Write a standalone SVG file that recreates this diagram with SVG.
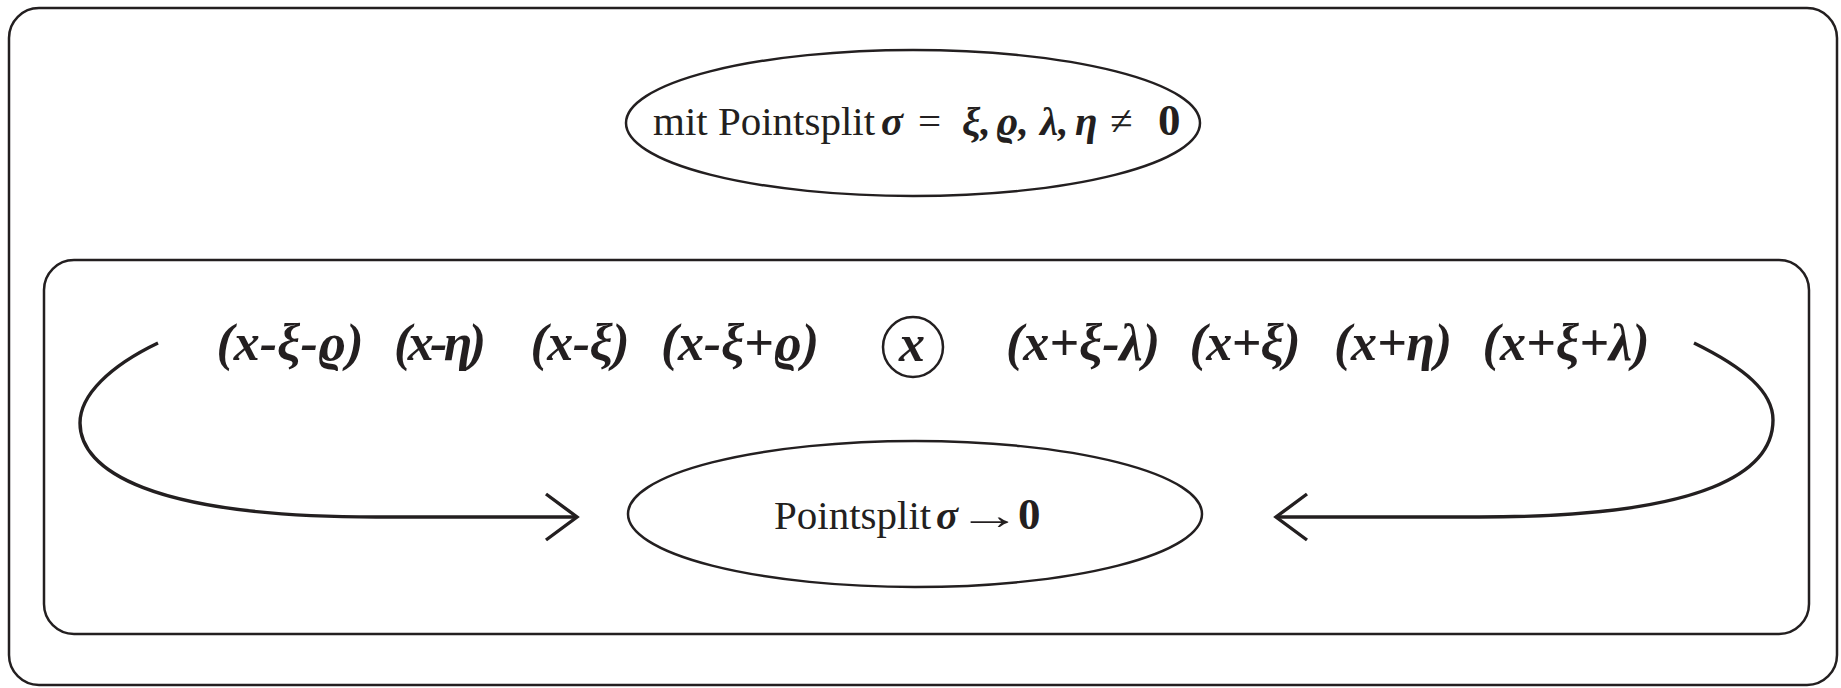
<svg xmlns="http://www.w3.org/2000/svg" width="1841" height="688" viewBox="0 0 1841 688">
<style>
.box{fill:none;stroke:#231f20;stroke-width:2.5}
.ell{fill:none;stroke:#231f20;stroke-width:2.5}
.con{fill:none;stroke:#231f20;stroke-width:3.4}
.t{font-family:"Liberation Serif","Times New Roman",serif;fill:#231f20;font-size:41px}
.bi{font-weight:bold;font-style:italic}
.b{font-weight:bold}
.zero{font-weight:bold;font-size:45px}
.expr{font-family:"Liberation Serif","Times New Roman",serif;font-weight:bold;font-style:italic;font-size:52px;fill:#231f20;text-anchor:middle}
</style>
<defs>
<marker id="vhead" markerUnits="userSpaceOnUse" markerWidth="40" markerHeight="60" viewBox="-36 -30 40 60" refX="0" refY="0" orient="auto">
<path d="M-31,-23 L0,0 L-31,23" fill="none" stroke="#231f20" stroke-width="3.4"/>
</marker>
</defs>
<rect id="outer" class="box" x="9" y="8" width="1828" height="677" rx="30"/>
<g id="top-ellipse">
<ellipse class="ell" cx="913" cy="123" rx="287" ry="73"/>
<text class="t" y="135"><tspan x="653">mit Pointsplit</tspan><tspan x="881" class="bi">σ</tspan><tspan x="918">=</tspan><tspan x="962" class="bi">ξ,</tspan><tspan x="996" class="bi">ϱ,</tspan><tspan x="1040" class="bi">λ,</tspan><tspan x="1075" class="bi">η</tspan><tspan x="1110">≠</tspan><tspan x="1158" class="zero">0</tspan></text>
</g>
<rect id="inner" class="box" x="44" y="260" width="1765" height="374" rx="30"/>
<g id="points">
<text class="expr" x="290" y="360" textLength="147">(x-ξ-ϱ)</text>
<text class="expr" x="440" y="360" textLength="92">(x-η)</text>
<text class="expr" x="580" y="360" textLength="99">(x-ξ)</text>
<text class="expr" x="740" y="360" textLength="158">(x-ξ+ϱ)</text>
<text class="expr" x="1083" y="360" textLength="154">(x+ξ-λ)</text>
<text class="expr" x="1245" y="360" textLength="111">(x+ξ)</text>
<text class="expr" x="1393" y="360" textLength="118">(x+η)</text>
<text class="expr" x="1566" y="360" textLength="167">(x+ξ+λ)</text>
</g>
<g id="center-x">
<circle class="ell" cx="913" cy="347" r="30"/>
<text class="expr" x="912" y="361" font-size="56">x</text>
</g>
<g id="bottom-ellipse">
<ellipse class="ell" cx="915" cy="514" rx="287" ry="73"/>
<text class="t" y="529"><tspan x="774">Pointsplit</tspan><tspan x="936" class="bi">σ</tspan></text>
<text class="t" transform="translate(958,529) scale(1.55,1)">→</text>
<text class="t zero" x="1018" y="529">0</text>
</g>
<g id="connectors">
<path class="con" d="M158,343 C110,366 80,395 80,423 C80,470 150,517 376,517 H577" marker-end="url(#vhead)"/>
<path class="con" d="M1694,343 C1745,368 1773,392 1773,420 C1773,470 1710,517 1479,517 H1276" marker-end="url(#vhead)"/>
</g>
</svg>
